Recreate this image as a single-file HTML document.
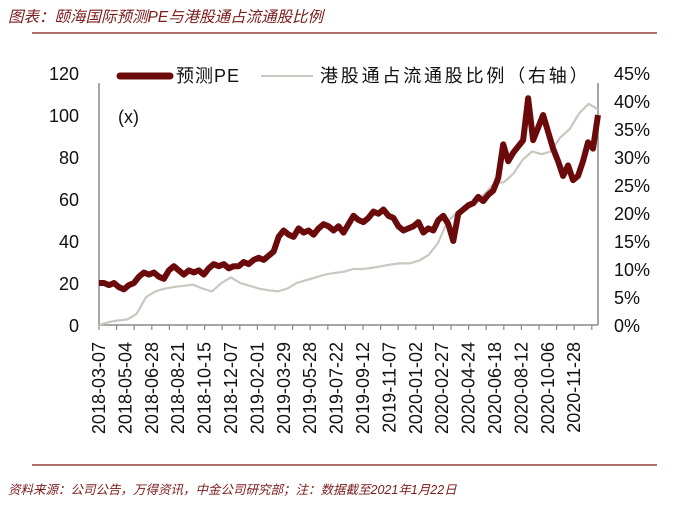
<!DOCTYPE html>
<html><head><meta charset="utf-8"><style>
body{margin:0;background:#fff;width:676px;height:505px;overflow:hidden;font-family:"Liberation Sans","Noto Sans CJK SC",sans-serif}
</style></head><body>
<svg width="676" height="505" xmlns="http://www.w3.org/2000/svg">
<text x="8" y="22" font-size="15.5" font-style="italic" fill="#7a1a1a" font-family="Liberation Sans,Noto Sans CJK SC,sans-serif">图表：颐海国际预测PE与港股通占流通股比例</text>
<line x1="32" y1="33" x2="657" y2="33" stroke="#7a1a1a" stroke-width="1.2"/>
<line x1="32" y1="465" x2="657" y2="465" stroke="#7a1a1a" stroke-width="1.2"/>
<text x="8" y="494" font-size="12.5" font-style="italic" fill="#7a1a1a" font-family="Liberation Sans,Noto Sans CJK SC,sans-serif">资料来源：公司公告，万得资讯，中金公司研究部；注：数据截至2021年1月22日</text>
<g id="plot"></g>
</svg>
<script>
const yLeftTicks=["0","20","40","60","80","100","120"];
const yRightTicks=["0%","5%","10%","15%","20%","25%","30%","35%","40%","45%"];
const dateLabels=["2018-03-07","2018-05-04","2018-06-28","2018-08-21","2018-10-15","2018-12-07","2019-02-01","2019-03-29","2019-05-28","2019-07-22","2019-09-12","2019-11-07","2020-01-02","2020-02-27","2020-04-24","2020-06-18","2020-08-12","2020-10-06","2020-11-28"];
const peValues=[20,20,19,20,18,17,19,20,23,25,24,25,23,22,26,28,26,24,26,25,26,24,27,29,28,29,27,28,28,30,29,31,32,31,33,35,42,45,43,42,46,44,45,43,46,48,47,45,47,44,48,52,50,49,51,54,53,55,52,51,47,45,46,47,49,44,46,45,50,52,48,40,53,55,57,58,61,59,62,64,70,86,78,82,85,88,108,88,94,100,92,84,78,71,76,69,71,78,87,84,100];
const ratioValues=[0,0.5,0.8,1,2,5,6,6.5,6.8,7,7.2,6.5,6,7.5,8.5,7.5,7,6.5,6.2,6,6.5,7.5,8,8.5,9,9.3,9.5,10,10,10.2,10.5,10.8,11,11,11.5,12.5,14.6,18.5,20,20.5,22,23.5,25.3,25.5,27,29.5,31,30.5,31,33.5,35,37.8,39.5,38.5];
const NS="http://www.w3.org/2000/svg";
const L=99,R=598,T=73,B=325;
const yL=v=>B-(v/120)*(B-T);
const yR=v=>B-(v/45)*(B-T);
const xi=(i,n)=>L+i*(R-L)/(n-1);
const g=document.getElementById('plot');
function mk(tag,attrs){const e=document.createElementNS(NS,tag);for(const k in attrs)e.setAttribute(k,attrs[k]);g.appendChild(e);return e;}
let e;
e=mk('line',{x1:L,y1:T+10,x2:L,y2:B,stroke:'#888','stroke-width':1.5});


e=mk('line',{x1:R,y1:T+10,x2:R,y2:B,stroke:'#888','stroke-width':1.5});


e=mk('line',{x1:L,y1:B,x2:R,y2:B,stroke:'#888','stroke-width':1.5});


for(let x=L;x<=R;x+=17.6){e=mk('line',{x1:x,y1:B,x2:x,y2:B+5,stroke:'#888','stroke-width':1.2});

}
yLeftTicks.forEach((t,i)=>{e=mk('text',{x:79,y:yL(+t)+7,'text-anchor':'end','font-size':18,fill:'#111'});e.textContent=t;

});
yRightTicks.forEach((t,i)=>{e=mk('text',{x:614,y:yR(i*5)+7,'font-size':18,fill:'#111'});e.textContent=t;

});
dateLabels.forEach((t,i)=>{const x=L+i*26.4+6;e=mk('text',{x:x,y:342,'text-anchor':'end','font-size':18,fill:'#111',transform:`rotate(-90 ${x} 342)`});e.textContent=t;

});
e=mk('text',{x:118,y:123,'font-size':18,fill:'#111'});e.textContent='(x)';


e=mk('polyline',{points:ratioValues.map((v,i)=>xi(i,ratioValues.length)+','+yR(v)).join(' '),fill:'none',stroke:'#c8c8c0','stroke-width':2.2});


e=mk('polyline',{points:peValues.map((v,i)=>xi(i,peValues.length)+','+yL(v)).join(' '),fill:'none',stroke:'#6b0a0a','stroke-width':6,'stroke-linejoin':'round'});


e=mk('line',{x1:120,y1:76,x2:170,y2:76,stroke:'#6b0a0a','stroke-width':7,'stroke-linecap':'round'});


e=mk('text',{x:176,y:82,'font-size':18,fill:'#111','letter-spacing':'1'});e.textContent='预测PE';


e=mk('line',{x1:261,y1:76,x2:313,y2:76,stroke:'#c8c8c0','stroke-width':2});


e=mk('text',{x:320,y:82,'font-size':18,fill:'#111','letter-spacing':'2.8'});e.textContent='港股通占流通股比例（右轴）';


</script>
</body></html>
